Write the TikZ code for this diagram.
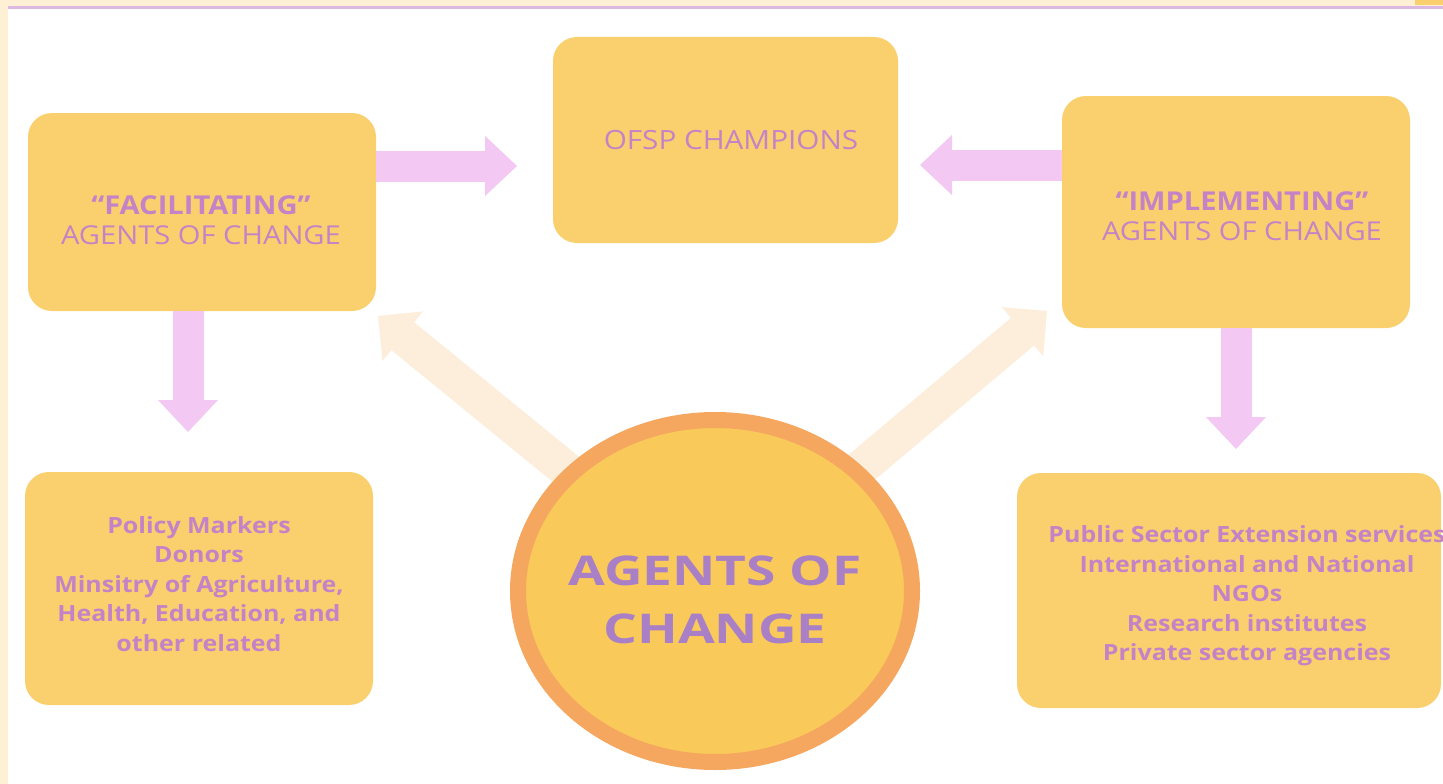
\documentclass[tikz,border=0pt]{standalone}
\usepackage{fontspec}
\setmainfont{Open Sans}[FakeStretch=1.12]
\newfontfamily\hubfont{Open Sans}[FakeStretch=1.3]
\usetikzlibrary{arrows.meta,shapes.geometric}

\definecolor{boxfill}{HTML}{FAD06E}
\definecolor{ringc}{HTML}{F5A65F}
\definecolor{discfill}{HTML}{F9C95A}
\definecolor{pinkarr}{HTML}{F3C8F3}
\definecolor{beigearr}{HTML}{FCEEDA}
\definecolor{txtc}{HTML}{C383C6}
\definecolor{bigtxt}{HTML}{A980C6}
\definecolor{cream}{HTML}{FDF0D4}
\definecolor{rulec}{HTML}{DDB8E2}

\tikzset{
  agentbox/.style={rounded corners=24pt, fill=boxfill, draw=none, inner sep=0pt,
    align=center, text=txtc},
  headtext/.style={font=\fontsize{26}{30}\selectfont, text=txtc, align=center},
  listtext/.style={font=\bfseries\fontsize{22.3}{29.5}\selectfont, align=center, text=txtc},
  pinkarrow/.style={draw=pinkarr, line width=31pt,
    -{Triangle[width=60pt,length=32pt,line width=0pt]}},
  beigearrow/.style={draw=beigearr, line width=36pt,
    -{Triangle[width=64pt,length=32pt,line width=0pt]}},
}

\begin{document}
\begin{tikzpicture}[x=1pt,y=-1pt]
  \useasboundingbox (0,0) rectangle (1443,784);
  % page frame
  \fill[white] (0,0) rectangle (1443,784);
  \fill[cream] (0,0) rectangle (1443,6);
  \fill[cream] (0,0) rectangle (8,784);
  \fill[boxfill] (1415,0) rectangle (1443,5);
  \draw[rulec, line width=3pt] (8,7.5) -- (1443,7.5);

  % boxes
  \node[agentbox, minimum width=345pt, minimum height=206pt] (ofsp) at (725.5,140) {};
  \node[font=\fontsize{26.5}{30}\selectfont, text=txtc] (ofsptxt) at (731,140) {OFSP CHAMPIONS};
  \node[agentbox, minimum width=348pt, minimum height=198pt] (fac) at (202,212) {};
  \node[headtext] (factxt) at (201,220)
    {\textbf{“FACILITATING”}\\AGENTS OF CHANGE};
  \node[agentbox, minimum width=348pt, minimum height=232pt] (imp) at (1236,212) {};
  \node[headtext] (imptxt) at (1242,216)
    {\textbf{“IMPLEMENTING”}\\AGENTS OF CHANGE};
  \node[agentbox, minimum width=348pt, minimum height=233pt] (pol) at (199,588.5) {};
  \node[listtext] (poltxt) at (199,584)
    {Policy Markers\\Donors\\Minsitry of Agriculture,\\Health, Education, and\\other related};
  \node[agentbox, minimum width=424pt, minimum height=235pt] (pub) at (1229,590.5) {};
  \node[listtext] (pubtxt) at (1247,596)
    {Public Sector Extension services\\International and National\\NGOs\\Research institutes\\Private sector agencies};

  % connectors
  \coordinate (tipR) at (517,166);
  \coordinate (tipL) at (920,165);
  \coordinate (tipD1) at (188,432);
  \coordinate (tipD2) at (1236,449);
  \coordinate (tipB1) at (378,316);
  \coordinate (tipB2) at (1047,311);
  \coordinate (hub) at (715,591);

  \draw[beigearrow] (hub) -- (tipB1);
  \draw[beigearrow] (hub) -- (tipB2);
  \draw[pinkarrow] (fac.east |- tipR) -- (tipR);
  \draw[pinkarrow] (imp.west |- tipL) -- (tipL);
  \draw[pinkarrow] (fac.south -| tipD1) -- (tipD1);
  \draw[pinkarrow] (imp.south -| tipD2) -- (tipD2);

  % central disc
  \node[ellipse, minimum width=394pt, minimum height=342pt, fill=discfill,
    draw=ringc, line width=16pt, inner sep=0pt] (hubdisc) at (hub) {};
  \node[font=\hubfont\bfseries\fontsize{41}{58}\selectfont, text=bigtxt, align=center] (hubtxt)
    at (715,600) {AGENTS OF\\CHANGE};
\end{tikzpicture}
\end{document}
